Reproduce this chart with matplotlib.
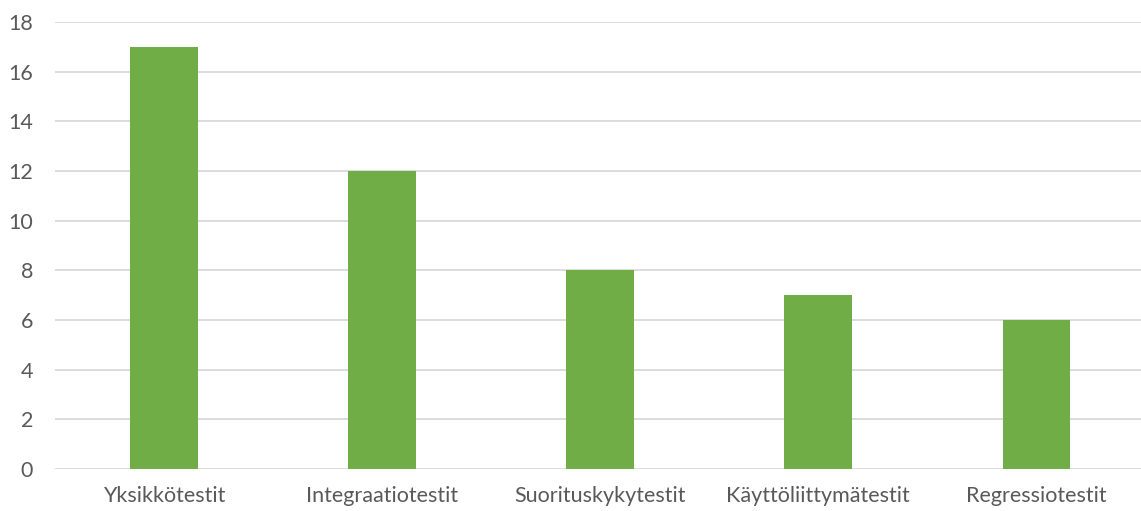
import matplotlib
matplotlib.use('Agg')
import matplotlib.pyplot as plt

plt.rcParams['font.family'] = ['Lato', 'DejaVu Sans']

# Test types and counts
categories = ['Yksikkötestit', 'Integraatiotestit', 'Suorituskykytestit',
              'Käyttöliittymätestit', 'Regressiotestit']
counts = [17, 12, 8, 7, 6]
yticks = list(range(0, 19, 2))

fig = plt.figure(figsize=(11.41, 5.11), dpi=100)
ax = fig.add_axes([0.0483, 0.082, 0.9517, 0.875])

x = range(len(categories))
ax.bar(x, counts, width=0.31, color='#70AD47', zorder=3)

ax.set_xlim(-0.5, 4.48)
ax.set_ylim(0, 18)
ax.set_yticks(yticks)
ax.set_xticks(list(x))
ax.set_xticklabels(categories)

ax.grid(axis='y', color='#D9D9D9', linewidth=1.3, zorder=0)
for s in ax.spines.values():
    s.set_visible(False)
ax.tick_params(length=0, labelsize=15.5, colors='#595959')
ax.tick_params(axis='y', pad=16)
ax.tick_params(axis='x', pad=12)

fig.savefig('out.png', dpi=100)
